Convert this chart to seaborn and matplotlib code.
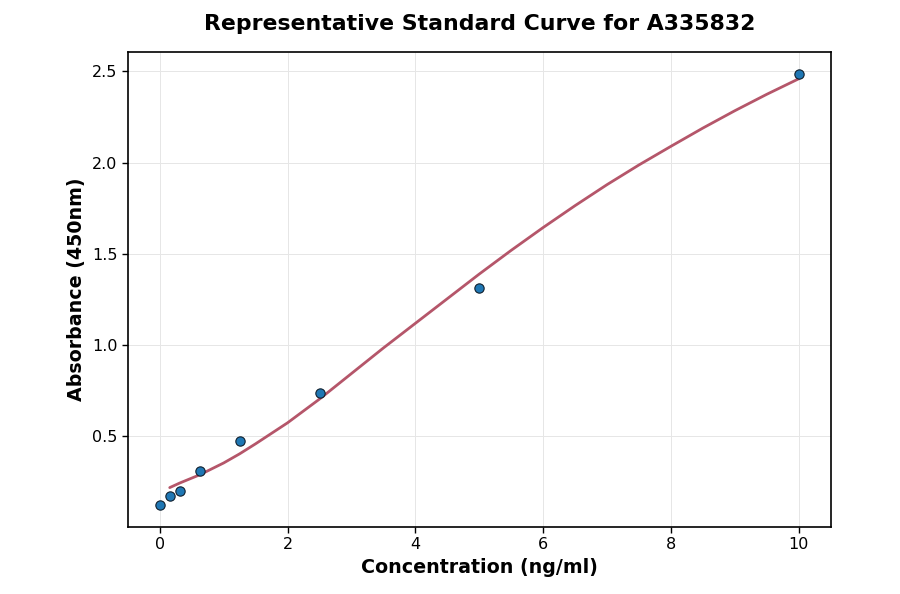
import numpy as np
import pandas as pd
import matplotlib
matplotlib.use('Agg')
import matplotlib.pyplot as plt
import seaborn as sns

# Standard points (concentration ng/ml vs absorbance)
concentration = [0, 0.156, 0.3125, 0.625, 1.25, 2.5, 5, 10]
absorbance = [0.123, 0.172, 0.202, 0.313, 0.478, 0.739, 1.313, 2.487]

# Fitted curve
curve_x = [0.156, 0.3125, 0.625, 1.0, 1.25, 1.5, 2.0, 2.5, 3.0, 3.5, 4.0, 4.5,
           5.0, 5.5, 6.0, 6.5, 7.0, 7.5, 8.0, 8.5, 9.0, 9.5, 10.0]
curve_y = [0.220, 0.245, 0.290, 0.355, 0.405, 0.460, 0.575, 0.705, 0.845, 0.985,
           1.120, 1.255, 1.390, 1.520, 1.645, 1.765, 1.880, 1.988, 2.090, 2.190,
           2.285, 2.375, 2.460]

sns.set_style('white')
plt.rcParams['font.family'] = ['DejaVu Sans']
plt.rcParams['text.color'] = 'black'
plt.rcParams['axes.labelcolor'] = 'black'
plt.rcParams['xtick.color'] = 'black'
plt.rcParams['ytick.color'] = 'black'

fig, ax = plt.subplots(figsize=(9, 5.94), dpi=100)
fig.subplots_adjust(left=0.142, right=0.923, top=0.912, bottom=0.113)

curve_df = pd.DataFrame({'x': curve_x, 'y': curve_y})
pts_df = pd.DataFrame({'x': concentration, 'y': absorbance})

sns.lineplot(data=curve_df, x='x', y='y', ax=ax, color='#b5566a', lw=2, zorder=2)
sns.scatterplot(data=pts_df, x='x', y='y', ax=ax, color='#1f77b4', s=45,
                edgecolor='#10202e', linewidth=0.8, zorder=3)

ax.set_yticks([0.5, 1.0, 1.5, 2.0, 2.5])
ax.set_xticks([0, 2, 4, 6, 8, 10])
ax.grid(True, color='#e6e6e6', linewidth=0.7)
ax.set_axisbelow(True)
for sp in ax.spines.values():
    sp.set_color('black')
    sp.set_linewidth(1.2)
ax.tick_params(axis='both', labelsize=11.5, length=4, width=1, direction='out',
               bottom=True, left=True, colors='black')

ax.set_xlabel('Concentration (ng/ml)', fontsize=13.7, fontweight='bold', color='black')
ax.set_ylabel('Absorbance (450nm)', fontsize=13.7, fontweight='bold', color='black')
ax.set_title('Representative Standard Curve for A335832', fontsize=15.8,
             fontweight='bold', pad=16, color='black')

plt.savefig('out.png', dpi=100)
